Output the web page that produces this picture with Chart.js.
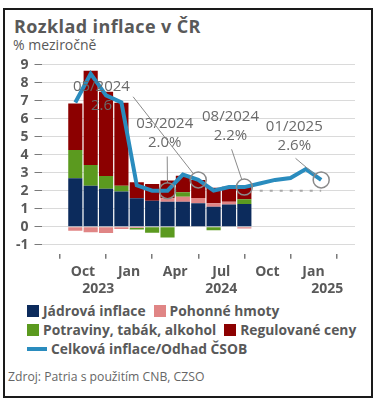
<!DOCTYPE html>
<html>
<head>
<meta charset="utf-8">
<script src="https://cdn.jsdelivr.net/npm/chart.js@4.4.1/dist/chart.umd.min.js"></script>
<style>
  body { margin:0; width:375px; height:401px; background:#fff; font-family:'Open Sans', sans-serif; color:#595959; position:relative; overflow:hidden; }
  #frame { position:absolute; left:3px; top:8px; width:370px; height:390px; box-sizing:border-box; border:2px solid #1a1a1a; }
  #title { position:absolute; left:14px; top:18px; font-size:18px; letter-spacing:0.4px; font-weight:700; line-height:17px; white-space:nowrap; }
  #subtitle { position:absolute; left:13px; top:38px; font-size:14px; line-height:14px; white-space:nowrap; }
  #wrap { position:absolute; left:0; top:50px; width:375px; height:250px; }
  #legend { position:absolute; left:27px; top:301px; width:340px; display:flex; flex-wrap:wrap; column-gap:8px; font-size:13.8px; font-weight:700; line-height:19px; }
  .item { display:flex; align-items:center; white-space:nowrap; }
  .sw { width:12px; height:12px; margin-right:4px; }
  .ln { width:20px; height:4px; margin-right:4px; }
  #source { position:absolute; left:8px; top:371px; font-size:12.2px; line-height:11px; color:#666; white-space:nowrap; }
</style>
</head>
<body>
<div id="frame"></div>
<div id="title">Rozklad inflace v ČR</div>
<div id="subtitle">% meziročně</div>
<div id="wrap"><canvas id="chart" width="375" height="250"></canvas></div>
<div id="legend"></div>
<div id="source">Zdroj: Patria s použitím CNB, CZSO</div>
<script>
// mesice 09/2023 .. 01/2025
const months = ['09/2023', '10/2023', '11/2023', '12/2023', '01/2024', '02/2024', '03/2024', '04/2024',
  '05/2024', '06/2024', '07/2024', '08/2024', '09/2024', '10/2024', '11/2024', '12/2024', '01/2025'];

// prispevky slozek (p.b.), jen 09/2023 .. 08/2024
const coreInfl = [2.69, 2.28, 2.11, 1.95, 1.58, 1.44, 1.39, 1.39, 1.30, 1.11, 1.24, 1.26];
const fuel = [-0.22, -0.31, -0.35, -0.13, -0.07, -0.03, 0.19, 0.28, 0.30, 0.19, 0.15, -0.10];
const food = [1.57, 1.15, 0.71, 0.33, -0.08, -0.30, -0.60, 0.24, 0, -0.20, 0, 0.26];
const regulated = [2.59, 5.24, 4.68, 4.61, 0.89, 0.93, 0.98, 0.92, 1.00, 0.87, 0.83, 0.78];

// celkova inflace + odhad CSOB
const headline = [6.9, 8.5, 7.3, 6.9, 2.3, 2.0, 2.0, 2.9, 2.6, 2.0, 2.2, 2.2, 2.4, 2.6, 2.7, 3.2, 2.6];
const target = [2, 2, 2, 2, 2]; // inflacni cil od 09/2024

const yTicks = [-1, 0, 1, 2, 3, 4, 5, 6, 7, 8, 9];
const tickMonths = [1, 4, 7, 10, 13, 16];
const tickLabels = ['Oct', 'Jan', 'Apr', 'Jul', 'Oct', 'Jan'];
const yearLabels = ['2023', '2024', '2025'];
const yearAt = [2, 10, 16.9];

// popisky bodu: index mesice, umisteni textu a zacatek vodici cary (v jednotkach os)
const callouts = [
  { i: 6, tx: 6.32, ty: 5.7, lx: 6.48, ly: 3.9, pct: true },
  { i: 8, tx: 2.2, ty: 7.78, lx: 4.26, ly: 7.22, pct: false },
  { i: 11, tx: 10.6, ty: 6.09, lx: 10.67, ly: 4.3, pct: true },
  { i: 16, tx: 14.75, ty: 5.56, lx: 14.83, ly: 3.8, pct: true }
];

const textColor = '#595959';
const pts = arr => arr.map((v, i) => ({ x: i + 0.5, y: v }));

const yearPlugin = {
  id: 'years',
  afterDraw(chart) {
    const ctx = chart.ctx, x = chart.scales.x;
    ctx.save();
    ctx.font = 'bold 14px "Open Sans"';
    ctx.fillStyle = textColor;
    ctx.textAlign = 'center';
    ctx.textBaseline = 'middle';
    yearLabels.forEach((t, i) => ctx.fillText(t, x.getPixelForValue(yearAt[i]), 239.5));
    ctx.restore();
  }
};

const calloutPlugin = {
  id: 'callouts',
  afterDatasetsDraw(chart) {
    const ctx = chart.ctx, x = chart.scales.x, y = chart.scales.y;
    ctx.save();
    ctx.strokeStyle = '#8a8a8a';
    ctx.fillStyle = '#6a6a6a';
    ctx.font = '15px "Open Sans"';
    ctx.textAlign = 'center';
    ctx.textBaseline = 'middle';
    callouts.forEach(c => {
      const cx = x.getPixelForValue(c.i + 0.5), cy = y.getPixelForValue(headline[c.i]);
      const r = 8;
      ctx.lineWidth = 1.5;
      ctx.beginPath();
      ctx.arc(cx, cy, r, 0, Math.PI * 2);
      ctx.stroke();
      const sx = x.getPixelForValue(c.lx), sy = y.getPixelForValue(c.ly);
      const d = Math.hypot(cx - sx, cy - sy);
      ctx.lineWidth = 1;
      ctx.beginPath();
      ctx.moveTo(sx, sy);
      ctx.lineTo(cx - (cx - sx) / d * r, cy - (cy - sy) / d * r);
      ctx.stroke();
      const tx = x.getPixelForValue(c.tx), ty = y.getPixelForValue(c.ty);
      ctx.fillText(months[c.i], tx, ty);
      ctx.fillText(headline[c.i].toFixed(1) + (c.pct ? '%' : ''), tx, ty + 19);
    });
    ctx.restore();
  }
};

const ctx = document.getElementById('chart').getContext('2d');
const chart = new Chart(ctx, {
  type: 'bar',
  data: {
    datasets: [
      { label: 'Jádrová inflace', data: pts(coreInfl), backgroundColor: '#0c2b5c', order: 2 },
      { label: 'Pohonné hmoty', data: pts(fuel), backgroundColor: '#e08585', order: 2 },
      { label: 'Potraviny, tabák, alkohol', data: pts(food), backgroundColor: '#5b9a1f', order: 2 },
      { label: 'Regulované ceny', data: pts(regulated), backgroundColor: '#8c0000', order: 2 },
      {
        type: 'line', label: 'Celková inflace/Odhad ČSOB', data: pts(headline), stack: 'line',
        borderColor: '#2a8cbe', backgroundColor: '#2a8cbe', borderWidth: 4, pointRadius: 0, tension: 0, order: 0
      },
      {
        type: 'line', label: 'cil', data: target.map((v, i) => ({ x: i + 12.5, y: v })), stack: 'target',
        borderColor: '#a8a8a8', borderWidth: 2, borderDash: [3, 7], pointRadius: 0, order: 1
      }
    ]
  },
  options: {
    responsive: false,
    animation: false,
    devicePixelRatio: 1,
    layout: { padding: { top: 14.7, right: 20, left: 0, bottom: 0 } },
    datasets: { bar: { categoryPercentage: 1, barPercentage: 0.92 } },
    scales: {
      x: {
        type: 'linear', min: 0, max: 17, stacked: true,
        border: { display: false },
        grid: { drawOnChartArea: false, drawTicks: true, tickLength: 5, tickColor: '#7a7a7a', lineWidth: 1.5 },
        ticks: {
          autoSkip: false, maxRotation: 0, padding: 5, color: textColor,
          font: { family: 'Open Sans', size: 14, weight: 'bold' },
          callback: (v, i) => tickLabels[i]
        },
        afterBuildTicks: s => { s.ticks = tickMonths.map(v => ({ value: v })); },
        afterFit: s => { s.height = 46.3; }
      },
      y: {
        min: -1.5, max: 9, stacked: true,
        border: { display: false },
        grid: { color: '#dadada', tickColor: '#7a7a7a', tickLength: 7 },
        ticks: {
          autoSkip: false, padding: 6, color: textColor,
          font: { family: 'Open Sans', size: 14, weight: 'bold' }
        },
        afterBuildTicks: s => { s.ticks = yTicks.map(v => ({ value: v })); },
        afterFit: s => { s.width = 41.5; }
      }
    },
    plugins: {
      legend: { display: false },
      tooltip: { enabled: false }
    }
  },
  plugins: [yearPlugin, calloutPlugin]
});

// legenda
const legend = document.getElementById('legend');
chart.data.datasets.slice(0, 5).forEach(ds => {
  const item = document.createElement('div');
  item.className = 'item';
  const mark = document.createElement('span');
  mark.className = ds.type === 'line' ? 'ln' : 'sw';
  mark.style.background = ds.type === 'line' ? ds.borderColor : ds.backgroundColor;
  item.appendChild(mark);
  item.appendChild(document.createTextNode(ds.label));
  legend.appendChild(item);
});
</script>
</body>
</html>
